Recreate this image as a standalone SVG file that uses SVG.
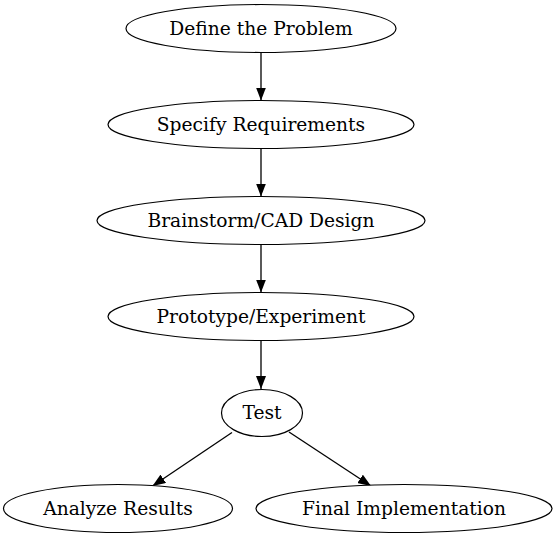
<svg xmlns="http://www.w3.org/2000/svg" width="558" height="539" viewBox="0 0 558 539">
<defs>
<marker id="arr" markerWidth="13" markerHeight="10" refX="13" refY="5" orient="auto" markerUnits="userSpaceOnUse" viewBox="0 0 13 10">
<path d="M0,0 L13,5 L0,10 Z" fill="#000"/>
</marker>
<style>
.node ellipse{fill:#fff;stroke:#000;stroke-width:1.2}
.node text{font-family:"DejaVu Serif",serif;font-size:18.67px;text-anchor:middle;fill:#000}
.edges line{stroke:#000;stroke-width:1.3;marker-end:url(#arr)}
</style>
</defs>
<rect width="558" height="539" fill="#fff"/>
<g class="edges" id="edges">
<line x1="261" y1="52.5" x2="261" y2="100.5"/>
<line x1="261" y1="148.5" x2="261" y2="196.5"/>
<line x1="261" y1="244.5" x2="261" y2="292.5"/>
<line x1="261" y1="340.5" x2="261" y2="389"/>
<line x1="232" y1="432.5" x2="152.5" y2="486"/>
<line x1="289" y1="432" x2="371" y2="486"/>
</g>
<g class="node" id="define"><ellipse cx="261" cy="28.5" rx="135" ry="24"/><text x="261" y="34.5">Define the Problem</text></g>
<g class="node" id="specify"><ellipse cx="261" cy="124.5" rx="153" ry="24"/><text x="261" y="130.5">Specify Requirements</text></g>
<g class="node" id="brainstorm"><ellipse cx="261" cy="220.5" rx="164" ry="24"/><text x="261" y="226.5">Brainstorm/CAD Design</text></g>
<g class="node" id="prototype"><ellipse cx="261" cy="316.5" rx="153" ry="24"/><text x="261" y="322.5">Prototype/Experiment</text></g>
<g class="node" id="test"><ellipse cx="262" cy="413" rx="40.5" ry="23.5"/><text x="262" y="419">Test</text></g>
<g class="node" id="analyze"><ellipse cx="118" cy="508.5" rx="114.5" ry="24"/><text x="118" y="514.5">Analyze Results</text></g>
<g class="node" id="final"><ellipse cx="404" cy="508.5" rx="148" ry="24"/><text x="404" y="514.5">Final Implementation</text></g>
</svg>
